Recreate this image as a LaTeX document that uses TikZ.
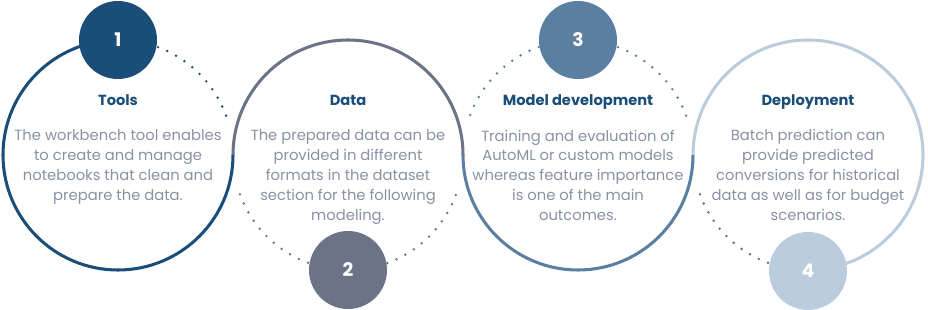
\documentclass[tikz,border=0pt]{standalone}
\usepackage{fontspec}
\setmainfont{Poppins}
\usetikzlibrary{positioning}
\definecolor{tooldark}{RGB}{26,78,120}
\definecolor{dataslate}{RGB}{107,116,134}
\definecolor{modelsteel}{RGB}{91,127,160}
\definecolor{deploylight}{RGB}{187,204,220}
\definecolor{dotslate}{RGB}{90,106,128}
\definecolor{bodygray}{RGB}{138,145,163}

\begin{document}
\begin{tikzpicture}[
    x=0.03cm, y=0.03cm,
    ring/.style={line width=2.6pt},
    dotring/.style={line width=2.3pt, line cap=round, dash pattern=on 0pt off 8.5pt},
    numdot/.style={
      circle, minimum size=2.34cm, inner sep=0pt,
      text=white, font=\fontsize{16}{16}\selectfont\bfseries
    },
    stagetitle/.style={
      inner sep=0pt, text height=9pt, text depth=2.5pt,
      font=\fontsize{12.5}{14}\selectfont\bfseries, text=tooldark
    },
    stagetext/.style={
      inner sep=0pt, anchor=north, align=center,
      font=\fontsize{12.6}{17}\selectfont, text=bodygray
    }
  ]
  \useasboundingbox (0,0) rectangle (928,310);
  \coordinate (c1) at (118,155);
  \coordinate (c2) at (348,155);
  \coordinate (c3) at (578,155);
  \coordinate (c4) at (808,155);

  % solid rings
  \draw[ring, tooldark] (c1) ++(90:3.45cm) arc[start angle=90, end angle=360, radius=3.45cm];
  \draw[ring, dataslate] (c2) ++(0:3.45cm) arc[start angle=0, end angle=180, radius=3.45cm];
  \draw[ring, modelsteel] (c3) ++(180:3.45cm) arc[start angle=180, end angle=360, radius=3.45cm];
  \draw[ring, deploylight] (c4) ++(-90:3.45cm) arc[start angle=-90, end angle=180, radius=3.45cm];

  % dotted parts
  \draw[dotring, tooldark] (c1) ++(20:3.45cm) arc[start angle=20, end angle=70, radius=3.45cm];
  \draw[dotring, dataslate] (c2) ++(200:3.45cm) arc[start angle=200, end angle=250, radius=3.45cm];
  \draw[dotring, dataslate] (c2) ++(290:3.45cm) arc[start angle=290, end angle=340, radius=3.45cm];
  \draw[dotring, modelsteel] (c3) ++(110:3.45cm) arc[start angle=110, end angle=160, radius=3.45cm];
  \draw[dotring, modelsteel] (c3) ++(20:3.45cm) arc[start angle=20, end angle=70, radius=3.45cm];
  \draw[dotring, dotslate] (c4) ++(200:3.45cm) arc[start angle=200, end angle=250, radius=3.45cm];

  % step numbers
  \node[numdot, fill=tooldark] (n1) at (118,270) {1};
  \node[numdot, fill=dataslate] (n2) at (348,40) {2};
  \node[numdot, fill=modelsteel] (n3) at (578,270) {3};
  \node[numdot, fill=deploylight] (n4) at (808,39) {4};

  % titles and texts
  \node[stagetitle] (t1) at (118,208) {Tools};
  \node[stagetitle] (t2) at (348,208) {Data};
  \node[stagetitle] (t3) at (578,208) {Model development};
  \node[stagetitle] (t4) at (808,208) {Deployment};
  \node[stagetext] (b1) at (118,180.5) {The workbench tool enables\\to create and manage\\notebooks that clean and\\prepare the data.};
  \node[stagetext] (b2) at (348,180.5) {The prepared data can be\\provided in different\\formats in the dataset\\section for the following\\modeling.};
  \node[stagetext] (b3) at (578,180.5) {Training and evaluation of\\AutoML or custom models\\whereas feature importance\\is one of the main\\outcomes.};
  \node[stagetext] (b4) at (808,180.5) {Batch prediction can\\provide predicted\\conversions for historical\\data as well as for budget\\scenarios.};
\end{tikzpicture}
\end{document}
